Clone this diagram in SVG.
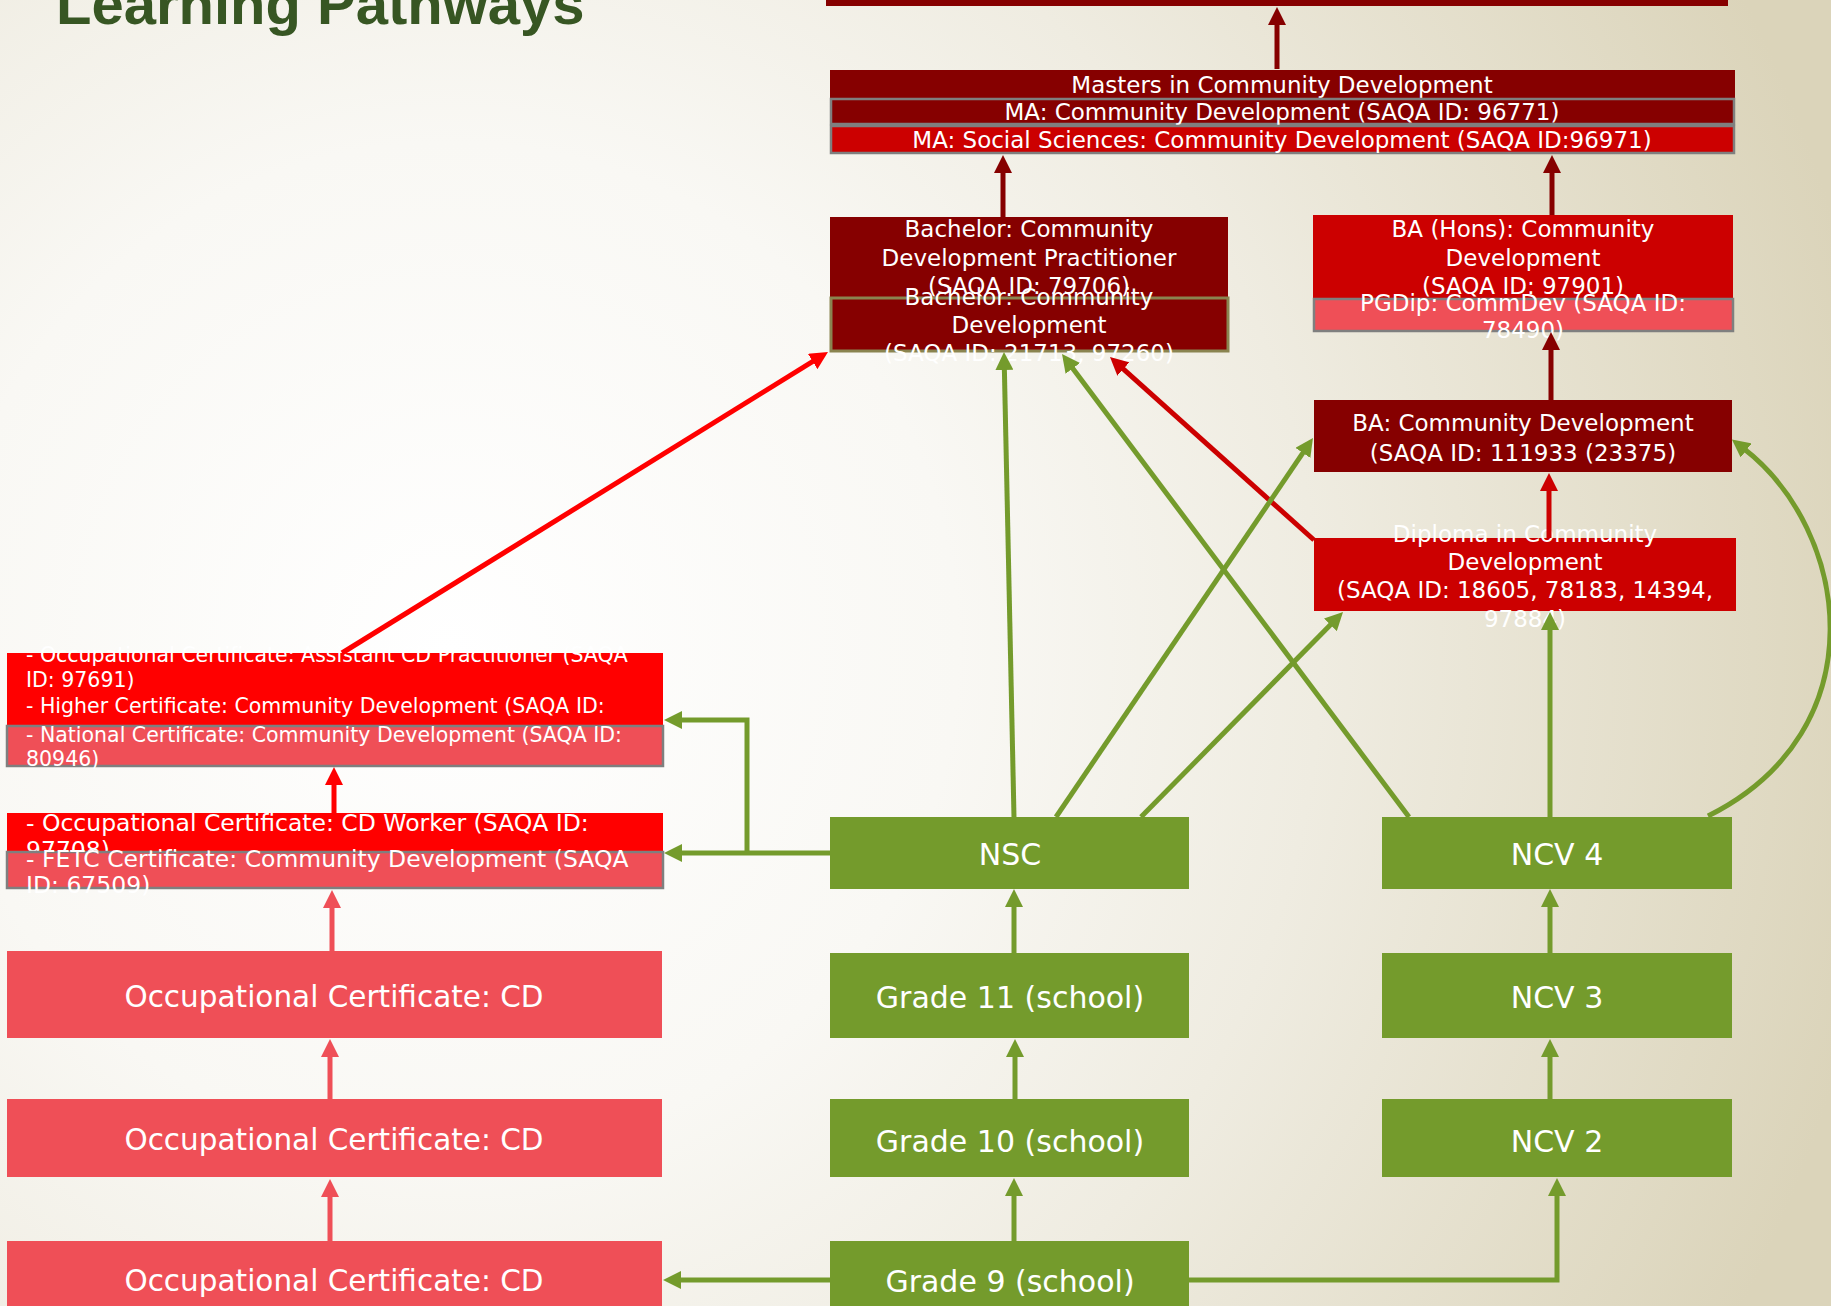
<svg xmlns="http://www.w3.org/2000/svg" width="1831" height="1306" viewBox="0 0 1831 1306">
<defs>
<radialGradient id="bg" gradientUnits="userSpaceOnUse" cx="450" cy="650" r="1450">
<stop offset="0" stop-color="#FFFFFF"/>
<stop offset="0.35" stop-color="#F9F8F4"/>
<stop offset="0.6" stop-color="#EFECE1"/>
<stop offset="1" stop-color="#DBD4BA"/>
</radialGradient>
<marker id="mDark" viewBox="0 0 18 18" markerWidth="18" markerHeight="18" markerUnits="userSpaceOnUse" refX="4" refY="9" orient="auto"><path d="M0,0 L18,9 L0,18 z" fill="#860000"/></marker>
<marker id="mRed" viewBox="0 0 18 18" markerWidth="18" markerHeight="18" markerUnits="userSpaceOnUse" refX="4" refY="9" orient="auto"><path d="M0,0 L18,9 L0,18 z" fill="#CC0000"/></marker>
<marker id="mBright" viewBox="0 0 18 18" markerWidth="18" markerHeight="18" markerUnits="userSpaceOnUse" refX="4" refY="9" orient="auto"><path d="M0,0 L18,9 L0,18 z" fill="#FF0000"/></marker>
<marker id="mPink" viewBox="0 0 18 18" markerWidth="18" markerHeight="18" markerUnits="userSpaceOnUse" refX="4" refY="9" orient="auto"><path d="M0,0 L18,9 L0,18 z" fill="#EF4F57"/></marker>
<marker id="mGreen" viewBox="0 0 18 18" markerWidth="18" markerHeight="18" markerUnits="userSpaceOnUse" refX="4" refY="9" orient="auto"><path d="M0,0 L18,9 L0,18 z" fill="#749B2C"/></marker>
</defs>
<style>
.dark{fill:#860000}
.red{fill:#CC0000}
.bright{fill:#FF0000}
.pink{fill:#EF4F57}
.green{fill:#749B2C}
.gray{stroke:#7F7F7F;stroke-width:2.5}
.olive{stroke:#8A8450;stroke-width:3}
text{font-family:"DejaVu Sans","Noto Sans",sans-serif;fill:#FFFFFF}
.m{font-size:23px;text-anchor:middle}
.s{font-size:20.5px}
.c{font-size:23.5px}
.b{font-size:29.5px;text-anchor:middle}
.g{font-size:30px;text-anchor:middle}
.title{font-family:"Liberation Sans",Arial,sans-serif;font-weight:bold;font-size:58px;fill:#375623}
.ln{fill:none;stroke-width:5}
.lDark{stroke:#860000;marker-end:url(#mDark)}
.lRed{stroke:#CC0000;marker-end:url(#mRed)}
.lBright{stroke:#FF0000;marker-end:url(#mBright)}
.lPink{stroke:#EF4F57;marker-end:url(#mPink)}
.lGreen{stroke:#749B2C;marker-end:url(#mGreen)}
</style>
<rect x="0" y="0" width="1831" height="1306" fill="url(#bg)"/>
<text class="title" x="56" y="24">Learning Pathways</text>

<g id="top-box"><rect class="dark" x="826" y="-30" width="902" height="36"/></g>

<g id="masters">
<rect class="dark" x="830" y="70" width="905" height="28"/>
<text class="m" x="1282" y="93">Masters in Community Development</text>
</g>
<g id="ma-cd">
<rect class="dark gray" x="831" y="99" width="903" height="25"/>
<text class="m" x="1282" y="120">MA: Community Development (SAQA ID: 96771)</text>
</g>
<g id="ma-ss">
<rect class="red gray" x="831" y="126" width="903" height="27"/>
<text class="m" x="1282" y="148">MA: Social Sciences: Community Development (SAQA ID:96971)</text>
</g>

<g id="bachelor-practitioner">
<rect class="dark" x="830" y="217" width="398" height="84"/>
<text class="m" x="1029" y="237">Bachelor: Community</text>
<text class="m" x="1029" y="266">Development Practitioner</text>
<text class="m" x="1029" y="294">(SAQA ID: 79706)</text>
</g>
<g id="bachelor-cd">
<rect class="dark olive" x="831" y="298" width="397" height="53"/>
<text class="m" x="1029" y="305">Bachelor: Community</text>
<text class="m" x="1029" y="333">Development</text>
<text class="m" x="1029" y="361">(SAQA ID: 21713, 97260)</text>
</g>

<g id="ba-hons">
<rect class="red" x="1313" y="215" width="420" height="83"/>
<text class="m" x="1523" y="237">BA (Hons): Community</text>
<text class="m" x="1523" y="266">Development</text>
<text class="m" x="1523" y="294">(SAQA ID: 97901)</text>
</g>
<g id="pgdip">
<rect class="pink gray" x="1314" y="299" width="419" height="32"/>
<text class="m" x="1523" y="311">PGDip: CommDev (SAQA ID:</text>
<text class="m" x="1523" y="338">78490)</text>
</g>

<g id="ba-cd">
<rect class="dark" x="1314" y="400" width="418" height="72"/>
<text class="m" x="1523" y="431">BA: Community Development</text>
<text class="m" x="1523" y="461">(SAQA ID: 111933 (23375)</text>
</g>
<g id="diploma">
<rect class="red" x="1314" y="538" width="422" height="73"/>
<text class="m" x="1525" y="542">Diploma in Community</text>
<text class="m" x="1525" y="570">Development</text>
<text class="m" x="1525" y="598">(SAQA ID: 18605, 78183, 14394,</text>
<text class="m" x="1525" y="627">97884)</text>
</g>

<g id="higher-cert">
<rect class="bright" x="7" y="653" width="656" height="73"/>
<text class="s" x="26" y="662">- Occupational Certificate: Assistant CD Practitioner (SAQA</text>
<text class="s" x="26" y="687">ID: 97691)</text>
<text class="s" x="26" y="713">- Higher Certificate: Community Development (SAQA ID:</text>
</g>
<g id="national-cert">
<rect class="pink gray" x="7" y="726" width="656" height="40"/>
<text class="s" x="26" y="742">- National Certificate: Community Development (SAQA ID:</text>
<text class="s" x="26" y="766">80946)</text>
</g>
<g id="cd-worker">
<rect class="bright" x="7" y="813" width="656" height="40"/>
<text class="c" x="26" y="831">- Occupational Certificate: CD Worker (SAQA ID:</text>
<text class="c" x="26" y="858">97708)</text>
</g>
<g id="fetc">
<rect class="pink gray" x="7" y="852" width="656" height="36"/>
<text class="c" x="26" y="867">- FETC Certificate: Community Development (SAQA</text>
<text class="c" x="26" y="893">ID: 67509)</text>
</g>

<g id="occ-3">
<rect class="pink" x="7" y="951" width="655" height="87"/>
<text class="b" x="334" y="1007">Occupational Certificate: CD</text>
</g>
<g id="occ-2">
<rect class="pink" x="7" y="1099" width="655" height="78"/>
<text class="b" x="334" y="1150">Occupational Certificate: CD</text>
</g>
<g id="occ-1">
<rect class="pink" x="7" y="1241" width="655" height="80"/>
<text class="b" x="334" y="1291">Occupational Certificate: CD</text>
</g>

<g id="nsc">
<rect class="green" x="830" y="817" width="359" height="72"/>
<text class="g" x="1010" y="865">NSC</text>
</g>
<g id="grade11">
<rect class="green" x="830" y="953" width="359" height="85"/>
<text class="g" x="1010" y="1008">Grade 11 (school)</text>
</g>
<g id="grade10">
<rect class="green" x="830" y="1099" width="359" height="78"/>
<text class="g" x="1010" y="1152">Grade 10 (school)</text>
</g>
<g id="grade9">
<rect class="green" x="830" y="1241" width="359" height="80"/>
<text class="g" x="1010" y="1292">Grade 9 (school)</text>
</g>
<g id="ncv4">
<rect class="green" x="1382" y="817" width="350" height="72"/>
<text class="g" x="1557" y="865">NCV 4</text>
</g>
<g id="ncv3">
<rect class="green" x="1382" y="953" width="350" height="85"/>
<text class="g" x="1557" y="1008">NCV 3</text>
</g>
<g id="ncv2">
<rect class="green" x="1382" y="1099" width="350" height="78"/>
<text class="g" x="1557" y="1152">NCV 2</text>
</g>

<g id="connectors">
<path class="ln lDark" d="M1277,69 V21"/>
<path class="ln lDark" d="M1003,217 V169"/>
<path class="ln lDark" d="M1552,215 V169"/>
<path class="ln lDark" d="M1551,400 V346"/>
<path class="ln lRed" d="M1549,538 V487"/>
<path class="ln lRed" d="M1314,540 L1120.4,366.4"/>
<path class="ln lBright" d="M342,653 L816.1,359.4"/>
<path class="ln lBright" d="M334,813 V781"/>
<path class="ln lPink" d="M332,951 V904"/>
<path class="ln lPink" d="M330,1099 V1053"/>
<path class="ln lPink" d="M330,1241 V1193"/>
<path class="ln lGreen" d="M1014,953 V903"/>
<path class="ln lGreen" d="M1015,1099 V1053"/>
<path class="ln lGreen" d="M1014,1241 V1192"/>
<path class="ln lGreen" d="M1550,953 V903"/>
<path class="ln lGreen" d="M1550,1099 V1053"/>
<path class="ln lGreen" d="M1189,1280 H1557 V1192"/>
<path class="ln lGreen" d="M830,1280 H677"/>
<path class="ln lGreen" d="M830,853 H678"/>
<path class="ln lGreen" d="M747,853 V720 H678"/>
<path class="ln lGreen" d="M1014,817 L1004.3,366"/>
<path class="ln lGreen" d="M1056,817 L1305.1,449.6"/>
<path class="ln lGreen" d="M1141,817 L1333.2,622"/>
<path class="ln lGreen" d="M1409,817 L1070.4,365.2"/>
<path class="ln lGreen" d="M1550,817 V626"/>
<path class="ln lGreen" d="M1708,816 C1880,730 1850,530 1743,448"/>
</g>
</svg>
